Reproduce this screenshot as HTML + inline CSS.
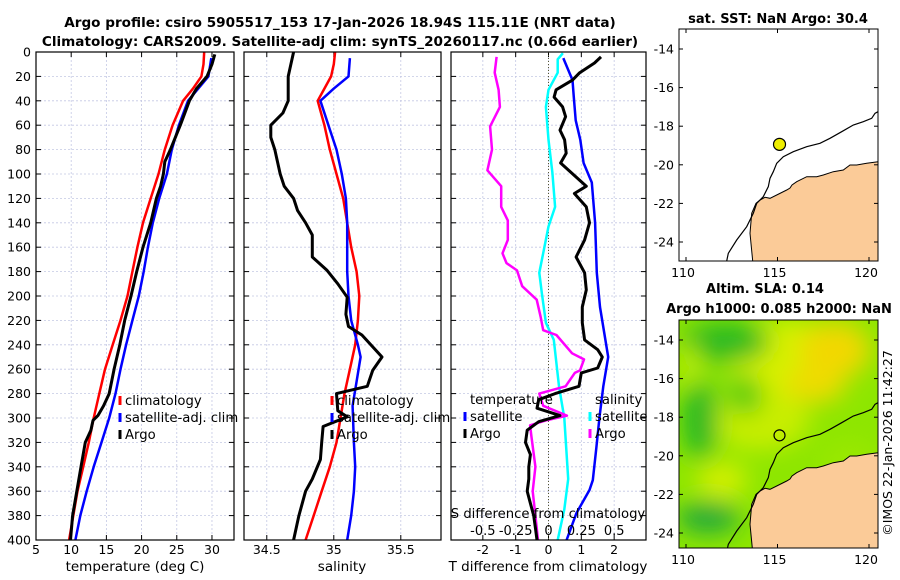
<!DOCTYPE html>
<html><head><meta charset="utf-8"><style>
html,body{margin:0;padding:0;background:#fff}
svg{display:block;font-family:"DejaVu Sans","Liberation Sans",sans-serif}
</style></head><body>
<svg id="fig" width="900" height="580" viewBox="0 0 900 580" xmlns="http://www.w3.org/2000/svg">
<defs>
<clipPath id="clipTop"><rect x="679" y="29" width="199" height="232"/></clipPath>
<clipPath id="clipBot"><rect x="679" y="320" width="199" height="228"/></clipPath>
<filter id="blur" x="-50%" y="-50%" width="200%" height="200%"><feGaussianBlur stdDeviation="12"/></filter>
</defs>
<text x="340" y="27" text-anchor="middle" font-size="13.6" font-weight="bold">Argo profile: csiro 5905517_153 17-Jan-2026 18.94S 115.11E (NRT data)</text>
<text x="340" y="46" text-anchor="middle" font-size="13.6" font-weight="bold">Climatology: CARS2009. Satellite-adj clim: synTS_20260117.nc (0.66d earlier)</text>
<g id="panels"></g>
<g id="maps"></g>
<text transform="translate(892,443) rotate(-90)" text-anchor="middle" font-size="12.5">©IMOS 22-Jan-2026 11:42:27</text>
</svg>
<script>
// ---------- data ----------
const depthTicks = [0,20,40,60,80,100,120,140,160,180,200,220,240,260,280,300,320,340,360,380,400];
const tempTicks = [5,10,15,20,25,30];
const salTicks = [34.5,35,35.5];
const diffTicks = [-2,-1,0,1,2];
const sdiffTicks = [-0.5,-0.25,0,0.25,0.5];
const sdiffLabels = ["-0.5","-0.25","0","0.25","0.5"];

const tClimDepth = [0,10,20,30,40,60,80,100,120,140,160,180,200,220,240,260,280,300,320,340,360,380,400];
const tClimVal   = [28.9,28.8,28.5,27.3,25.9,24.4,23.3,22.4,21.3,20.2,19.4,18.7,18.0,17.0,15.9,14.8,14.0,13.2,12.5,11.7,10.9,10.3,9.7];
const tSatDepth = [5,20,40,60,80,100,120,140,160,180,200,220,240,260,280,300,320,340,360,380,400];
const tSatVal   = [29.9,29.5,26.6,25.3,24.3,23.6,22.5,21.6,20.9,20.3,19.6,18.7,17.8,17.0,16.3,15.4,14.3,13.2,12.2,11.3,10.6];
const tArgoDepth = [2,10,20,30,40,60,80,90,100,110,120,140,160,180,200,220,240,260,280,290,298,302,310,320,340,360,380,400];
const tArgoVal   = [30.4,30.0,29.3,27.8,26.8,25.5,24.1,23.3,23.1,22.7,22.1,21.3,20.2,19.3,18.5,17.6,16.9,16.1,15.4,14.6,13.8,13.1,12.8,12.0,11.4,10.8,10.2,9.9];

const sClimDepth = [0,10,20,30,40,60,80,100,120,140,160,180,200,220,240,260,280,300,320,340,360,380,400];
const sClimVal   = [35.01,35.0,34.98,34.93,34.88,34.93,34.97,35.02,35.07,35.10,35.13,35.17,35.19,35.18,35.16,35.12,35.08,35.05,35.02,34.97,34.91,34.85,34.79];
const sSatDepth = [5,20,30,40,60,80,100,120,140,160,180,200,220,240,250,270,290,320,340,360,380,400];
const sSatVal   = [35.12,35.11,35.0,34.9,34.96,35.02,35.06,35.09,35.1,35.1,35.1,35.11,35.13,35.18,35.2,35.17,35.14,35.15,35.16,35.15,35.13,35.1];
const sArgoDepth = [0,10,20,40,50,60,70,80,90,100,110,120,130,140,150,168,179,190,201,215,225,232,250,261,274,280,294,299,307,320,334,350,360,380,400];
const sArgoVal   = [34.70,34.68,34.66,34.66,34.62,34.53,34.53,34.56,34.58,34.60,34.63,34.70,34.73,34.79,34.84,34.84,34.95,35.03,35.10,35.09,35.11,35.21,35.36,35.29,35.25,35.02,35.03,35.10,34.92,34.91,34.90,34.84,34.79,34.74,34.70];

const dTArgoDepth = [4,9,17,23,31,37,45,53,64,72,83,91,110,116,127,140,154,168,181,195,209,222,236,244,250,259,263,274,280,285,292,298,303,310,320,330,340,350,360,370,380,390,400];
const dTArgoVal   = [1.6,1.4,0.95,0.73,0.23,0.17,0.43,0.52,0.35,0.49,0.54,0.37,1.15,0.79,1.15,1.25,1.1,0.84,1.1,1.15,1.03,1.03,1.1,1.5,1.64,1.5,1.0,0.93,0.2,-0.3,-0.35,0.35,-0.3,-0.65,-0.7,-0.55,-0.6,-0.6,-0.65,-0.55,-0.45,-0.4,-0.35];
const dTSatDepth = [5,23,37,56,72,91,107,140,181,209,250,274,300,324,351,359,378,400];
const dTSatVal   = [0.45,0.73,0.77,0.83,0.97,1.07,1.32,1.42,1.47,1.57,1.82,1.67,1.55,1.46,1.35,1.25,0.85,0.55];
const dSSatDepth = [1,6,17,31,45,72,99,127,143,181,198,222,236,274,300,350,375,400];
const dSSatVal   = [0.11,0.07,0.07,0.0,-0.02,0.0,0.03,0.05,0.0,-0.07,-0.05,-0.02,0.04,0.08,0.12,0.15,0.12,0.07];
const dSArgoDepth = [4,17,31,45,61,80,97,110,127,138,154,165,173,179,192,203,217,228,232,247,252,261,263,274,280,290,298,302,306,315,340,360,380,400];
const dSArgoVal   = [-0.395,-0.41,-0.38,-0.37,-0.445,-0.43,-0.465,-0.36,-0.36,-0.31,-0.31,-0.35,-0.32,-0.24,-0.2,-0.09,-0.06,-0.04,0.06,0.18,0.27,0.24,0.2,0.13,-0.07,-0.04,0.14,-0.02,-0.14,-0.13,-0.1,-0.12,-0.1,-0.08];

// ---------- helpers ----------
const NS = "http://www.w3.org/2000/svg";
const panelsG = document.getElementById('panels');
const mapsG = document.getElementById('maps');
const TOP = 52, BOT = 540;
function yD(d){ return TOP + (d/400)*(BOT-TOP); }
function mk(tag, attrs, parent){
  const e = document.createElementNS(NS, tag);
  for (const k in attrs) e.setAttribute(k, attrs[k]);
  parent.appendChild(e);
  return e;
}
function mkText(x,y,str,size,anchor,parent){
  const t = mk('text',{x:x,y:y,'font-size':size,'text-anchor':anchor||'middle'},parent);
  t.textContent = str;
  return t;
}
const panels = [
  {x0:36,x1:234,v0:5,v1:33.13},
  {x0:244,x1:441,v0:34.33,v1:35.80},
  {x0:451,x1:646,v0:-2.97,v1:2.97}
];
function xScale(p){ return v => p.x0 + (v-p.v0)/(p.v1-p.v0)*(p.x1-p.x0); }

function drawFrame(p, ticks, labels, pname){
  const g = mk('g',{},panelsG);
  
  
  const xs = xScale(p);
  depthTicks.forEach(d=>{
    const gl = mk('line',{x1:p.x0,x2:p.x1,y1:yD(d),y2:yD(d),stroke:'#c4c8e4','stroke-width':0.8,'stroke-dasharray':'2,2'},g);
    
    
    mk('line',{x1:p.x0,x2:p.x0+5,y1:yD(d),y2:yD(d),stroke:'#000','stroke-width':1},g);
    mk('line',{x1:p.x1-5,x2:p.x1,y1:yD(d),y2:yD(d),stroke:'#000','stroke-width':1},g);
  });
  ticks.forEach((v,i)=>{
    const gl = mk('line',{x1:xs(v),x2:xs(v),y1:TOP,y2:BOT,stroke:'#c4c8e4','stroke-width':0.8,'stroke-dasharray':'2,2'},g);
    
    
    mk('line',{x1:xs(v),x2:xs(v),y1:BOT-5,y2:BOT,stroke:'#000','stroke-width':1},g);
    mk('line',{x1:xs(v),x2:xs(v),y1:TOP,y2:TOP+5,stroke:'#000','stroke-width':1},g);
    const t = mkText(xs(v),554,labels[i],12.5,'middle',g);
    
    
  });
  return {g, xs};
}
function series(g, xs, depths, vals, color, w, name){
  const pts = depths.map((d,i)=>xs(vals[i]).toFixed(1)+','+yD(d).toFixed(1)).join(' ');
  const pl = mk('polyline',{points:pts,fill:'none',stroke:color,'stroke-width':w,'stroke-linejoin':'round'},g);
  
  
}
function border(g,p){
  mk('rect',{x:p.x0,y:TOP,width:p.x1-p.x0,height:BOT-TOP,fill:'none',stroke:'#000','stroke-width':1.2},g);
}
function legendEntry(g,x,y,color,label){
  const e = mk('g',{},g);
  
  
  mk('line',{x1:x,x2:x,y1:y-9,y2:y,stroke:color,'stroke-width':3},e);
  mkText(x+5,y,label,13.2,'start',e);
}

// ---------- panel 1: temperature ----------
{
  const p = panels[0];
  const {g,xs} = drawFrame(p,tempTicks,tempTicks.map(String),'temperature');
  depthTicks.forEach(d=>{
    const t = mkText(31,yD(d)+4.5,String(d),12.5,'end',g);
    
    
  });
  series(g,xs,tClimDepth,tClimVal,'#ff0000',2.5,'temp-climatology-line');
  series(g,xs,tSatDepth,tSatVal,'#0000ff',2.5,'temp-satellite-line');
  series(g,xs,tArgoDepth,tArgoVal,'#000000',3,'temp-argo-line');
  legendEntry(g,120,405,'#ff0000','climatology');
  legendEntry(g,120,422,'#0000ff','satellite-adj. clim');
  legendEntry(g,120,439,'#000000','Argo');
  border(g,p);
  const t = mkText(135,571,'temperature (deg C)',13.5,'middle',g);
  
  
}
// ---------- panel 2: salinity ----------
{
  const p = panels[1];
  const {g,xs} = drawFrame(p,salTicks,salTicks.map(String),'salinity');
  series(g,xs,sClimDepth,sClimVal,'#ff0000',2.5,'sal-climatology-line');
  series(g,xs,sSatDepth,sSatVal,'#0000ff',2.5,'sal-satellite-line');
  series(g,xs,sArgoDepth,sArgoVal,'#000000',3,'sal-argo-line');
  legendEntry(g,332,405,'#ff0000','climatology');
  legendEntry(g,332,422,'#0000ff','satellite-adj. clim');
  legendEntry(g,332,439,'#000000','Argo');
  border(g,p);
  const t = mkText(342,571,'salinity',13.5,'middle',g);
  
  
}
// ---------- panel 3: differences ----------
{
  const p = panels[2];
  const {g,xs} = drawFrame(p,diffTicks,diffTicks.map(String),'difference');
  const zl = mk('line',{x1:xs(0),x2:xs(0),y1:TOP,y2:BOT,stroke:'#555533','stroke-width':1,'stroke-dasharray':'1,2'},g);
  
  
  const xsS = v => xs(v*4);
  series(g,xsS,dSSatDepth,dSSatVal,'#00ffff',2.5,'sdiff-satellite-line');
  series(g,xsS,dSArgoDepth,dSArgoVal,'#ff00ff',2.5,'sdiff-argo-line');
  series(g,xs,dTSatDepth,dTSatVal,'#0000ff',2.5,'tdiff-satellite-line');
  series(g,xs,dTArgoDepth,dTArgoVal,'#000000',3,'tdiff-argo-line');
  const lt = mkText(470,404,'temperature',13.2,'start',g);
  
  
  const ls = mkText(595,404,'salinity',13.2,'start',g);
  
  
  legendEntry(g,465,421,'#0000ff','satellite');
  legendEntry(g,465,438,'#000000','Argo');
  legendEntry(g,590,421,'#00ffff','satellite');
  legendEntry(g,590,438,'#ff00ff','Argo');
  const st = mkText(548,518,'S difference from climatology',13.2,'middle',g);
  
  
  sdiffTicks.forEach((v,i)=>{
    const t = mkText(xsS(v),535,sdiffLabels[i],13,'middle',g);
    
    
  });
  border(g,p);
  const t = mkText(548,571,'T difference from climatology',13.5,'middle',g);
  
  
}

// ---------- maps ----------
const mapLonTicks = [110,115,120];
const mapLatTicks = [-14,-16,-18,-20,-22,-24];
const argoLon = 115.11, argoLat = -18.94;
function lonX(l){ return 686 + (l-110)*18.3; }
function latY(l, off){ return 49 + (-14 - l)*19.3 + off; }
const landPts = "752.7,261 750,233.3 751.7,213.3 756,203.3 760,200 765,197.3 770,198.3 776.7,195 786.7,190 790,188 792,185 796.7,181.7 806.7,176.7 816.7,176.7 823.3,175 833.3,171.7 843.3,170 850,165 856.7,165 866.7,163.3 878,161.7 878,300 752.7,300";
const isoPts = "726.7,261 728.3,253.3 736.7,240 746.7,226.7 753.3,213.3 756.7,203.3 763.3,196.7 768.3,186.7 770,178.3 773.3,171.7 776.7,163.3 783.3,156.7 793.3,151.7 806.7,146.7 820,143.3 830,138.3 841.7,131.7 853.3,125 863.3,121.7 871.7,118.3 875,113.3 878,111.7";
function drawMap(off, clip, name, title1, title2){
  const g = mk('g',{},mapsG);
  
  
  const top = off===0?29:320, h = off===0?232:228;
  const inner = mk('g',{'clip-path':'url(#'+clip+')'},g);
  if(off!==0){
    mk('rect',{x:679,y:top,width:199,height:h,fill:'#8ee600'},inner);
    const blobs = mk('g',{filter:'url(#blur)'},inner);
    [[790,360,60,40,'#d6f000'],[760,420,50,30,'#c8ee00'],[835,350,35,28,'#f2d800'],[815,385,30,18,'#eedc00'],[725,342,45,20,'#2cba22'],[700,420,18,40,'#28b828'],[708,518,32,16,'#20aa3a'],[722,480,25,18,'#d4f000'],[690,365,10,22,'#c0ee00'],[745,395,18,20,'#5ccc10'],[850,470,30,30,'#9ae800']].forEach(b=>{
      mk('ellipse',{cx:b[0],cy:b[1],rx:b[2],ry:b[3],fill:b[4]},blobs);
    });
  }
  const land = mk('polygon',{points:landPts,fill:'#fbcb98',stroke:'#000','stroke-width':1,transform:'translate(0,'+off+')'},inner);
  
  
  const iso = mk('polyline',{points:isoPts,fill:'none',stroke:'#000','stroke-width':1.2,transform:'translate(0,'+off+')'},inner);
  
  
  const dot = mk('circle',{cx:lonX(argoLon),cy:latY(argoLat,off),r:off===0?6:5.5,fill:off===0?'#eeee00':'none',stroke:'#000','stroke-width':1.2},g);
  
  
  mk('rect',{x:679,y:top,width:199,height:h,fill:'none',stroke:'#000','stroke-width':1},g);
  mapLatTicks.forEach(l=>{
    const y = latY(l,off);
    mk('line',{x1:679,x2:683,y1:y,y2:y,stroke:'#000'},g);
    mk('line',{x1:874,x2:878,y1:y,y2:y,stroke:'#000'},g);
    const t = mkText(674,y+4.5,String(l),12.5,'end',g);
    
    
  });
  mapLonTicks.forEach(l=>{
    const x = lonX(l);
    mk('line',{x1:x,x2:x,y1:top+h-4,y2:top+h,stroke:'#000'},g);
    mk('line',{x1:x,x2:x,y1:top,y2:top+4,stroke:'#000'},g);
    const t = mkText(x-3,top+h+16,String(l),12.5,'middle',g);
    
    
  });
  const t1 = mkText(title2?765:778, off===0?23:293, title1, 13,'middle',g);
  t1.setAttribute('font-weight','bold');
  
  
  if(title2){
    const t2 = mkText(779,313,title2,13,'middle',g);
    t2.setAttribute('font-weight','bold');
    
    
  }
}
drawMap(0,'clipTop','sst-map','sat. SST: NaN Argo: 30.4',null);
drawMap(291,'clipBot','sla-map','Altim. SLA: 0.14','Argo h1000: 0.085 h2000: NaN');
</script>
</body></html>
